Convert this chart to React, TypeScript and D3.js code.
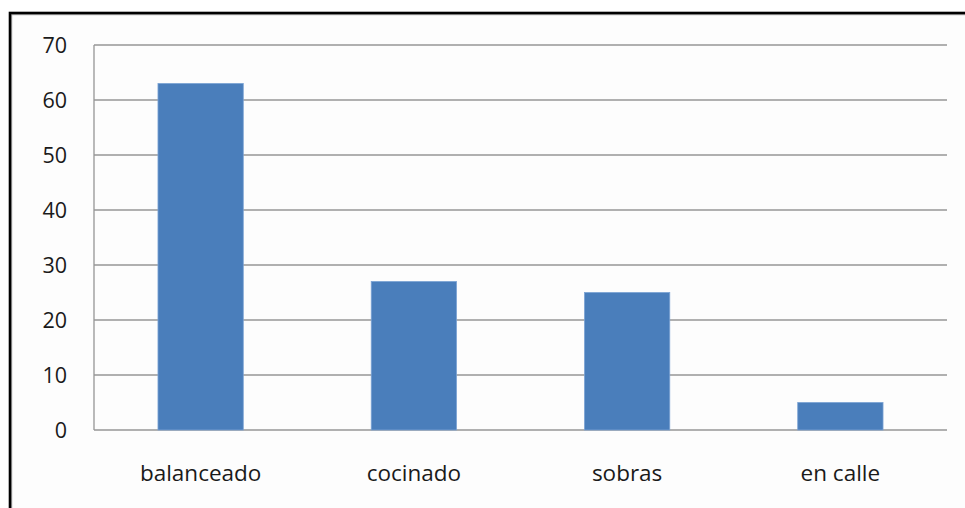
import React from "react";
import * as d3 from "d3";

const categories = ["balanceado", "cocinado", "sobras", "en calle"];
const values = [63, 27, 25, 5];
const yTicks = [0, 10, 20, 30, 40, 50, 60, 70];

const W = 965;
const H = 508;
const plot = { left: 94, right: 947, top: 45, bottom: 430 };
const FONT = "'Open Sans', 'Noto Sans', sans-serif";
const GRID = "#969696";

export default function App() {
  const x = d3
    .scaleBand<string>()
    .domain(categories)
    .range([plot.left, plot.right])
    .paddingInner(0.6)
    .paddingOuter(0.3);
  const y = d3.scaleLinear().domain([0, 70]).range([plot.bottom, plot.top]);

  return (
    <svg
      width={W}
      height={H}
      style={{ position: "absolute", left: 0, top: 0, background: "#ffffff" }}
    >
      {/* chart frame */}
      <rect x={10} y={13} width={W + 20} height={H + 20} fill="#fdfdfd" />
      <rect x={11.5} y={14.5} width={W + 20} height={H + 20} fill="none" stroke="#b0b0b0" strokeWidth={1.5} />
      <rect x={10} y={13} width={W + 20} height={H + 20} fill="none" stroke="#000" strokeWidth={2.6} />

      {/* horizontal gridlines */}
      {yTicks.map((t) => (
        <line
          key={`g${t}`}
          x1={plot.left}
          x2={plot.right}
          y1={y(t)}
          y2={y(t)}
          stroke={GRID}
          strokeWidth={1.3}
        />
      ))}
      {/* value axis line */}
      <line
        x1={plot.left}
        x2={plot.left}
        y1={plot.top}
        y2={plot.bottom}
        stroke={GRID}
        strokeWidth={1.3}
      />

      {/* y tick labels */}
      {yTicks.map((t) => (
        <text
          key={`t${t}`}
          x={67}
          y={y(t)}
          dy="0.36em"
          textAnchor="end"
          fontFamily={FONT}
          fontSize={21.5}
          fill="#1a1a1a"
        >
          {t}
        </text>
      ))}

      {/* bars */}
      {categories.map((c, i) => (
        <rect
          key={c}
          x={x(c)!}
          y={y(values[i])}
          width={x.bandwidth()}
          height={y(0) - y(values[i])}
          fill="#4a7ebb"
          stroke="#7ba3d4"
          strokeWidth={0.8}
        />
      ))}

      {/* category labels */}
      {categories.map((c) => (
        <text
          key={`l${c}`}
          x={x(c)! + x.bandwidth() / 2}
          y={481}
          textAnchor="middle"
          fontFamily={FONT}
          fontSize={22.5}
          fill="#1a1a1a"
        >
          {c}
        </text>
      ))}
    </svg>
  );
}
